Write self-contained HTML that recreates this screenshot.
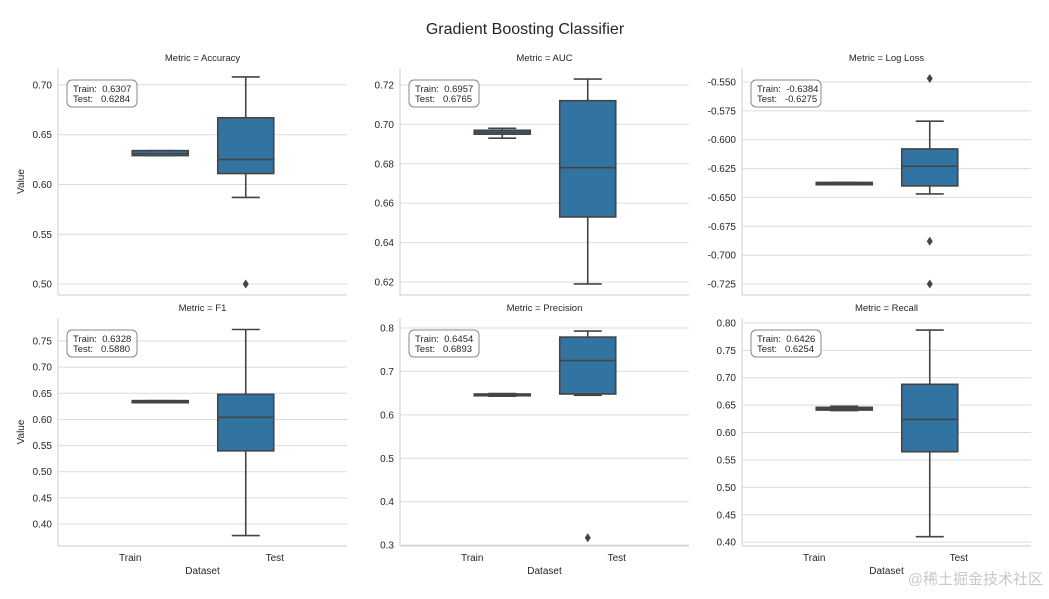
<!DOCTYPE html>
<html><head><meta charset="utf-8">
<style>
body{margin:0;background:#fff;font-family:"Liberation Sans",sans-serif;}
svg text{font-family:"Liberation Sans","Noto Sans CJK SC",sans-serif;fill:#262626;}
</style></head>
<body>
<svg id="chart" width="1049" height="594" viewBox="0 0 1049 594" xmlns="http://www.w3.org/2000/svg">
<text x="525" y="34" text-anchor="middle" font-size="16">Gradient Boosting Classifier</text>
</svg>
<script>
const metrics = ["Accuracy","AUC","Log Loss","F1","Precision","Recall"];
const trainStats = [
  [0.629,0.629,0.631,0.634,0.634],
  [0.693,0.695,0.696,0.697,0.698],
  [-0.639,-0.639,-0.638,-0.637,-0.637],
  [0.632,0.632,0.634,0.636,0.636],
  [0.643,0.644,0.646,0.648,0.649],
  [0.640,0.641,0.643,0.646,0.648]
];
const testStats = [
  [0.587,0.611,0.625,0.667,0.708],
  [0.619,0.653,0.678,0.712,0.723],
  [-0.647,-0.640,-0.623,-0.608,-0.584],
  [0.378,0.540,0.604,0.648,0.772],
  [0.645,0.648,0.725,0.779,0.793],
  [0.410,0.565,0.624,0.688,0.787]
];
const testOutliers = [[0.500],[],[-0.547,-0.688,-0.725],[],[0.317],[]];
const yTicks = [
  [0.50,0.55,0.60,0.65,0.70],
  [0.62,0.64,0.66,0.68,0.70,0.72],
  [-0.725,-0.700,-0.675,-0.650,-0.625,-0.600,-0.575,-0.550],
  [0.40,0.45,0.50,0.55,0.60,0.65,0.70,0.75],
  [0.3,0.4,0.5,0.6,0.7,0.8],
  [0.40,0.45,0.50,0.55,0.60,0.65,0.70,0.75,0.80]
];
const tickDecimals = [2,2,3,2,1,2];
const yDomains = [[0.489,0.717],[0.6134,0.7286],[-0.7345,-0.5379],[0.358,0.794],[0.298,0.823],[0.393,0.809]];
const annTrain = ["0.6307","0.6957","-0.6384","0.6328","0.6454","0.6426"];
const annTest = ["0.6284","0.6765","-0.6275","0.5880","0.6893","0.6254"];
const categories = ["Train","Test"];

const NS="http://www.w3.org/2000/svg";
const svg=document.getElementById('chart');
function mk(tag,attrs,parent){const e=document.createElementNS(NS,tag);for(const k in attrs)e.setAttribute(k,attrs[k]);(parent||svg).appendChild(e);return e;}
const colX=[58,400,742], W=289;
const rowY=[[68,295],[318,546]];
for(let i=0;i<6;i++){
  const c=i%3,r=Math.floor(i/3);
  const x0=colX[c],x1=x0+W,top=rowY[r][0],bot=rowY[r][1];
  const g=mk('g',{});
  
  
  const [d0,d1]=yDomains[i];
  const y=v=>bot-(v-d0)/(d1-d0)*(bot-top);
  const xc=k=>x0+W*(0.25+0.5*k);
  yTicks[i].forEach(t=>{
    const gl=mk('line',{x1:x0,x2:x1,y1:y(t),y2:y(t),stroke:'#dcdcdc','stroke-width':1},g);
    
    
    const tl=mk('text',{x:x0-6,y:y(t)+3.5,'text-anchor':'end','font-size':10},g);
    tl.textContent=t.toFixed(tickDecimals[i]);
    
    
  });
  mk('line',{x1:x0,x2:x0,y1:top,y2:bot,stroke:'#ccc','stroke-width':1},g);
  mk('line',{x1:x0,x2:x1,y1:bot,y2:bot,stroke:'#ccc','stroke-width':1},g);
  const tt=mk('text',{x:x0+W/2,y:top-7,'text-anchor':'middle','font-size':9.5},g);
  tt.textContent='Metric = '+metrics[i];
  
  
  [trainStats[i],testStats[i]].forEach((s,k)=>{
    const cx=xc(k)+(k===0?30:-29), bw=56;
    const bg=mk('g',{},g);
    
    
    const ln={stroke:'#444','stroke-width':1.6};
    mk('line',Object.assign({x1:cx,x2:cx,y1:y(s[0]),y2:y(s[1])},ln),bg);
    mk('line',Object.assign({x1:cx,x2:cx,y1:y(s[3]),y2:y(s[4])},ln),bg);
    mk('line',Object.assign({x1:cx-bw/4,x2:cx+bw/4,y1:y(s[0]),y2:y(s[0])},ln),bg);
    mk('line',Object.assign({x1:cx-bw/4,x2:cx+bw/4,y1:y(s[4]),y2:y(s[4])},ln),bg);
    mk('rect',{x:cx-bw/2,y:y(s[3]),width:bw,height:Math.max(1,y(s[1])-y(s[3])),fill:'#3274a1',stroke:'#444','stroke-width':1.6},bg);
    mk('line',Object.assign({x1:cx-bw/2,x2:cx+bw/2,y1:y(s[2]),y2:y(s[2])},ln),bg);
    if(k===1){
      testOutliers[i].forEach(o=>{
        const oy=y(o);
        const d=mk('path',{d:`M${cx},${oy-4.5}L${cx+3},${oy}L${cx},${oy+4.5}L${cx-3},${oy}Z`,fill:'#444'},bg);
        
        
      });
    }
  });
  const ag=mk('g',{},g);
  
  
  mk('rect',{x:x0+9,y:top+12,width:70,height:27,rx:5,fill:'#fff',stroke:'#888','stroke-width':1},ag);
  const a1=mk('text',{x:x0+15,y:top+24,'font-size':9.5},ag);a1.textContent='Train:  '+annTrain[i];
  a1.style.whiteSpace='pre';
  const a2=mk('text',{x:x0+15,y:top+34,'font-size':9.5},ag);a2.textContent='Test:   '+annTest[i];
  a2.style.whiteSpace='pre';
  if(r===1){
    categories.forEach((cname,k)=>{
      const l=mk('text',{x:xc(k),y:bot+15,'text-anchor':'middle','font-size':10},g);
      l.textContent=cname;
      
      
    });
    const xl=mk('text',{x:x0+W/2,y:bot+28,'text-anchor':'middle','font-size':10},g);
    xl.textContent='Dataset';
    
    
  }
  if(c===0){
    const yl=mk('text',{x:24,y:(top+bot)/2,'text-anchor':'middle','font-size':10,transform:`rotate(-90 24 ${(top+bot)/2})`},g);
    yl.textContent='Value';
    
    
  }
}
const wm=mk('text',{x:1043,y:584,'text-anchor':'end','font-size':15,style:'fill:#c8c8c8'});
wm.textContent='@稀土掘金技术社区';


</script>
</body></html>
